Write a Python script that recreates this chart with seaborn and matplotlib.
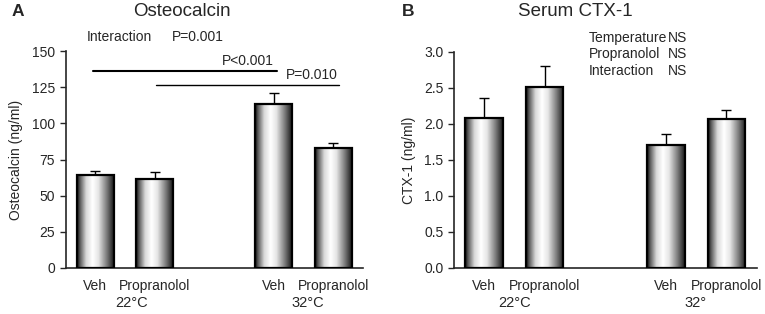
import numpy as np
import pandas as pd
import matplotlib
matplotlib.use('Agg')
import matplotlib.pyplot as plt
import seaborn as sns

sns.set_style('ticks')
plt.rcParams['font.family'] = ['Liberation Sans', 'DejaVu Sans']

# data
groups = ['Veh', 'Propranolol', 'Veh', 'Propranolol']
positions = [0, 1, 3, 4]
osteo_mean = [64.0, 61.3, 113.3, 83.0]
osteo_sem = [3.0, 5.0, 7.4, 3.2]
ctx_mean = [2.08, 2.52, 1.71, 2.07]
ctx_sem = [0.28, 0.28, 0.15, 0.13]

# horizontal shading for the "cylinder" look
t = np.linspace(0, 1, 200)
shade = np.interp(t, [0, 0.08, 0.25, 0.42, 0.58, 0.8, 1.0],
                  [0.05, 0.35, 0.85, 1.0, 0.9, 0.5, 0.1])
grad = shade[np.newaxis, :]


def draw_panel(ax, means, sems, ymax, yticks, fmt, temps, temp_x):
    df = pd.DataFrame({'pos': positions, 'value': means})
    sns.barplot(data=df, x='pos', y='value', native_scale=True, width=0.62,
                color='white', errorbar=None, ax=ax, zorder=3)
    for p in list(ax.patches):
        x0, y0 = p.get_x(), p.get_y()
        w, h = p.get_width(), p.get_height()
        p.set_facecolor('none')
        p.set_edgecolor('black')
        p.set_linewidth(1.6)
        p.set_zorder(4)
        im = ax.imshow(grad, extent=[x0, x0 + w, y0, y0 + h], aspect='auto',
                       cmap='gray', vmin=0, vmax=1, zorder=3)
        im.set_clip_path(p)
    ax.errorbar(positions, means, yerr=[np.zeros(len(sems)), sems], fmt='none',
                ecolor='black', elinewidth=1.0, capsize=3.6, capthick=1.0, zorder=2)
    ax.set_xlim(-0.49, 4.5)
    ax.set_ylim(0, ymax)
    ax.set_yticks(yticks)
    ax.set_yticklabels([fmt.format(v) for v in yticks], fontsize=10)
    ax.set_xticks(positions)
    ax.set_xticklabels(groups, fontsize=10)
    ax.tick_params(axis='x', length=0, pad=8)
    ax.tick_params(axis='y', length=4, width=1, direction='out', pad=4)
    ax.set_xlabel('')
    for s in ['left', 'bottom']:
        ax.spines[s].set_linewidth(1.2)
    sns.despine(ax=ax)
    for xc, lab in zip(temp_x, temps):
        ax.text(xc, -0.162, lab, transform=ax.get_xaxis_transform(),
                ha='center', va='center', fontsize=10.5)


fig = plt.figure(figsize=(7.65, 3.14), dpi=100)
axA = fig.add_axes([0.0863, 0.1465, 0.388, 0.691])
axB = fig.add_axes([0.594, 0.1474, 0.395, 0.687])

draw_panel(axA, osteo_mean, osteo_sem, 150, [0, 25, 50, 75, 100, 125, 150],
           '{:.0f}', ['22°C', '32°C'], [0.61, 3.57])
draw_panel(axB, ctx_mean, ctx_sem, 3.0, [0, 0.5, 1.0, 1.5, 2.0, 2.5, 3.0],
           '{:.1f}', ['22°C', '32°'], [0.5, 3.5])

axA.set_ylabel('Osteocalcin (ng/ml)', fontsize=10, labelpad=6)
axB.set_ylabel('CTX-1 (ng/ml)', fontsize=10, labelpad=6)

# significance bars in panel A
axA.plot([-0.04, 3.06], [136.3, 136.3], color='black', lw=1.5, clip_on=False)
axA.plot([1.02, 4.1], [126.2, 126.2], color='black', lw=1.0, clip_on=False)
axA.text(3.01, 138.5, 'P<0.001', ha='right', va='bottom', fontsize=10)
axA.text(3.2, 128.3, 'P=0.010', ha='left', va='bottom', fontsize=10)
axA.text(-0.14, 159.5, 'Interaction', ha='left', va='center', fontsize=10, clip_on=False)
axA.text(1.29, 159.5, 'P=0.001', ha='left', va='center', fontsize=10, clip_on=False)

# stats text in panel B
for yv, lab in zip([3.2, 2.97, 2.73], ['Temperature', 'Propranolol', 'Interaction']):
    axB.text(1.73, yv, lab, ha='left', va='center', fontsize=10, clip_on=False)
    axB.text(3.04, yv, 'NS', ha='left', va='center', fontsize=10, clip_on=False)

fig.text(182 / 765, 1 - 12 / 314, 'Osteocalcin', ha='center', va='center', fontsize=13.5)
fig.text(575 / 765, 1 - 12 / 314, 'Serum CTX-1', ha='center', va='center', fontsize=13.5)
fig.text(12 / 765, 1 - 12 / 314, 'A', ha='left', va='center', fontsize=12.5, fontweight='bold')
fig.text(402 / 765, 1 - 12 / 314, 'B', ha='left', va='center', fontsize=12.5, fontweight='bold')

fig.savefig('out.png', dpi=100)
